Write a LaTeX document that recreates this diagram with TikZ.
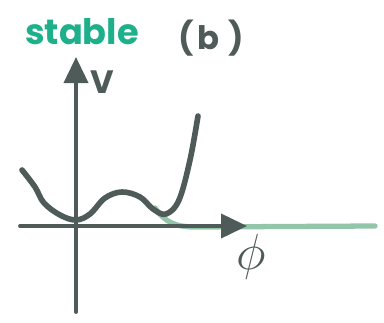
\documentclass[tikz,border=0pt]{standalone}
\usepackage{fontspec}
\setmainfont{Poppins}
\usepackage{tikz}
\usetikzlibrary{arrows.meta, positioning}

\definecolor{ink}{HTML}{4F5B59}
\definecolor{tealtext}{HTML}{1DB08B}
\definecolor{palegreen}{HTML}{93C6A8}

\begin{document}
\begin{tikzpicture}[
    x=0.5mm, y=-0.5mm,
    axis/.style={ink, line width=5.5pt, line cap=round, -{Triangle[length=13mm, width=12mm]}},
    potential/.style={ink, line width=8pt, line cap=round, line join=round},
    vacuum/.style={palegreen, line width=7.5pt, line cap=round},
    label/.style={text=ink, font=\fontsize{46}{46}\selectfont\bfseries, inner sep=0pt}
]
\useasboundingbox (0,0) rectangle (384,323);

% Axis end points
\coordinate (ybot) at (76,312);
\coordinate (ytop) at (76,57);
\coordinate (xleft) at (20,226);
\coordinate (xright) at (247,226);
\coordinate (vstart) at (155,208);
\coordinate (vend) at (375,226);

% Green flat direction
\draw[vacuum] (vstart) .. controls (165,222) and (175,227) .. (195,227) -- (vend);

% Axes
\draw[axis] (ybot) -- (ytop);
\draw[axis] (xleft) -- (xright);

% Potential
\draw[potential] plot[smooth, tension=0.6] coordinates {
    (22,170) (35,187) (44,203) (60,215) (76,220) (90,214) (105,198)
    (122,192) (140,197) (153,209) (166,214) (179,200) (190,160) (198,116)};

% Labels
\node[text=tealtext, font=\fontsize{50}{50}\selectfont\bfseries, inner sep=0pt] (title) at (82,32) {stable};
\node[label] (panel) at (211,38) {(\hspace{6pt}b\hspace{12pt})};
\node[label] (vlabel) at (102,82) {V};
\node[label, text=ink] (philabel) at (251,257) {\scalebox{2.9}{$\phi$}};

\end{tikzpicture}
\end{document}
